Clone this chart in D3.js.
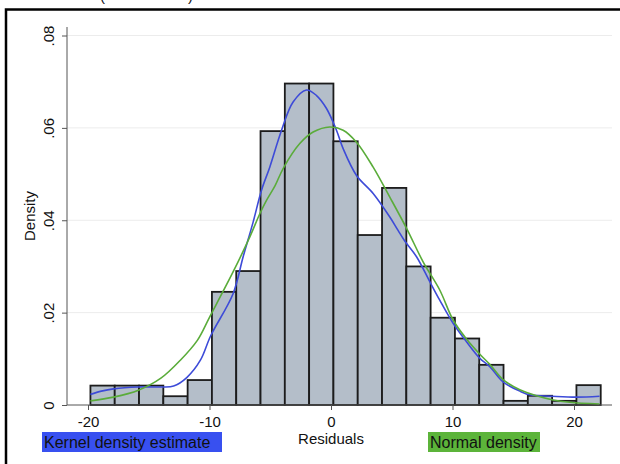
<!DOCTYPE html>
<html>
<head>
<meta charset="utf-8">
<script src="https://cdn.jsdelivr.net/npm/d3@7"></script>
<style>
  html, body { margin: 0; padding: 0; background: #fff; }
  svg { display: block; font-family: "Liberation Sans", Arial, Helvetica, sans-serif; }
  .tick-label { font-size: 15px; fill: #111; }
  .axis-title { font-size: 15px; fill: #111; }
  .legend-label { font-size: 16px; fill: #111; }
</style>
</head>
<body>
<div id="chart"></div>
<script>
// histogram bins (left edge) and their densities
const binLeft = [-19.8, -17.8, -15.8, -13.8, -11.8, -9.8, -7.8, -5.8, -3.8, -1.8,
  0.2, 2.2, 4.2, 6.2, 8.2, 10.2, 12.2, 14.2, 16.2, 18.2, 20.2];
const binDensity = [0.0042, 0.0042, 0.0042, 0.0019, 0.0054, 0.0245, 0.029, 0.0593, 0.0696, 0.0696,
  0.0571, 0.0368, 0.047, 0.030, 0.0189, 0.0144, 0.0087, 0.0009, 0.002, 0.0009, 0.0043];
const binWidth = 2;

// kernel density estimate (blue)
const kdeX = [-19.8, -18.9, -17.9, -15.85, -14.0, -12.95, -11.85, -10.75, -9.9, -8.06, -7.23, -6.41,
  -5.72, -5.04, -4.07, -3.12, -2.02, -1.19, -0.37, 0.45, 1.0, 2.1, 3.47, 4.84, 5.52, 6.07, 7.04,
  8.13, 8.95, 10.05, 11.15, 12.25, 13.07, 14.16, 15.54, 16.36, 18.2, 20.2, 22.1];
const kdeY = [0.0023, 0.0030, 0.0035, 0.0039, 0.0039, 0.0041, 0.0060, 0.0097, 0.0150, 0.0241, 0.0321, 0.0396,
  0.0465, 0.0515, 0.0595, 0.0656, 0.0682, 0.0670, 0.0642, 0.0595, 0.0555, 0.0497, 0.0458, 0.0407, 0.0378, 0.0355, 0.0321,
  0.0267, 0.0227, 0.0177, 0.0137, 0.0101, 0.0083, 0.0050, 0.0030, 0.0022, 0.0019, 0.0017, 0.0019];

// normal density (green)
const normX = [-19.8, -17.9, -15.85, -14.0, -12.4, -11.0, -9.98, -8.06, -6.68, -5.86, -5.31, -4.6, -3.94,
  -2.57, -1.47, -0.1, 1.0, 2.1, 3.47, 4.84, 6.21, 7.58, 8.95, 10.05, 11.15, 12.25, 13.07, 14.16, 15.54,
  16.91, 18.28, 19.65, 22.1];
const normY = [0.0009, 0.0017, 0.0032, 0.0058, 0.0097, 0.0140, 0.0191, 0.0288, 0.0364, 0.0414, 0.0443, 0.0475, 0.0512,
  0.0566, 0.0591, 0.0602, 0.0595, 0.0569, 0.0515, 0.0450, 0.0383, 0.0310, 0.0249, 0.0184, 0.0143, 0.0110, 0.0088, 0.0055, 0.0033,
  0.0020, 0.0011, 0.0006, 0.0002];

const xTicks = [-20, -10, 0, 10, 20];
const yTicks = [0, 0.02, 0.04, 0.06, 0.08];
const yTickLabels = ['0', '.02', '.04', '.06', '.08'];

const width = 620;
const height = 464;
const plot = { left: 67, right: 612, top: 27, bottom: 405 };

const x = d3.scaleLinear().domain([-20, 20]).range([88, 574]);
const y = d3.scaleLinear().domain([0, 0.08]).range([405, 35.5]);

const svg = d3.select('#chart').append('svg')
  .attr('width', width)
  .attr('height', height);

// bits of a line cut off above the frame
svg.append('text').attr('class', 'tick-label').attr('x', 100).attr('y', 1).text('(');
svg.append('text').attr('class', 'tick-label').attr('x', 188).attr('y', 1).text(')');

// outer frame
svg.append('rect')
  .attr('x', 6).attr('y', 9.5)
  .attr('width', 700).attr('height', 520)
  .attr('fill', 'none')
  .attr('stroke', '#000')
  .attr('stroke-width', 2.5);

// grid
svg.append('g')
  .selectAll('line')
  .data(yTicks.filter((d) => d > 0))
  .join('line')
  .attr('x1', plot.left).attr('x2', plot.right)
  .attr('y1', (d) => y(d)).attr('y2', (d) => y(d))
  .attr('stroke', '#ececec')
  .attr('stroke-width', 1);

// bars
svg.append('g')
  .selectAll('rect')
  .data(binLeft)
  .join('rect')
  .attr('x', (d) => x(d))
  .attr('y', (d, i) => y(binDensity[i]))
  .attr('width', (d) => x(d + binWidth) - x(d))
  .attr('height', (d, i) => y(0) - y(binDensity[i]))
  .attr('fill', '#b4bec9')
  .attr('stroke', '#1c1c1c')
  .attr('stroke-width', 1.8);

const line = d3.line()
  .x((d) => x(d[0]))
  .y((d) => y(d[1]))
  .curve(d3.curveCatmullRom.alpha(0.5));

svg.append('path')
  .datum(kdeX.map((v, i) => [v, kdeY[i]]))
  .attr('d', line)
  .attr('fill', 'none')
  .attr('stroke', '#3d4bd8')
  .attr('stroke-width', 1.6);

svg.append('path')
  .datum(normX.map((v, i) => [v, normY[i]]))
  .attr('d', line)
  .attr('fill', 'none')
  .attr('stroke', '#5aac3a')
  .attr('stroke-width', 1.6);

// axes
const yAxis = svg.append('g')
  .attr('transform', `translate(${plot.left},0)`)
  .call(d3.axisLeft(y).tickValues(yTicks).tickFormat((d, i) => yTickLabels[i]).tickSize(5).tickSizeOuter(0));
yAxis.select('.domain').remove();
yAxis.selectAll('.tick line').attr('stroke', '#555');
yAxis.selectAll('.tick text')
  .attr('class', 'tick-label')
  .attr('x', null).attr('dy', null)
  .attr('transform', 'translate(-13,0) rotate(-90)')
  .attr('text-anchor', 'middle')
  .attr('y', 0);

svg.append('line')
  .attr('x1', plot.left).attr('x2', plot.left)
  .attr('y1', plot.top).attr('y2', plot.bottom)
  .attr('stroke', '#555').attr('stroke-width', 1);

const xAxis = svg.append('g')
  .attr('transform', `translate(0,${plot.bottom})`)
  .call(d3.axisBottom(x).tickValues(xTicks).tickFormat((d) => String(d)).tickSize(5).tickSizeOuter(0));
xAxis.select('.domain').remove();
xAxis.selectAll('.tick line').attr('stroke', '#555');
xAxis.selectAll('.tick text')
  .attr('class', 'tick-label')
  .attr('dy', null)
  .attr('y', 22);

svg.append('line')
  .attr('x1', plot.left).attr('x2', plot.right)
  .attr('y1', plot.bottom).attr('y2', plot.bottom)
  .attr('stroke', '#555').attr('stroke-width', 1);

// axis titles
svg.append('text')
  .attr('class', 'axis-title')
  .attr('transform', 'translate(35,216) rotate(-90)')
  .attr('text-anchor', 'middle')
  .text('Density');

svg.append('text')
  .attr('class', 'axis-title')
  .attr('x', x(0)).attr('y', 444)
  .attr('text-anchor', 'middle')
  .text('Residuals');

// legend
const legend = [
  { label: 'Kernel density estimate', color: '#3850f0', x: 42, w: 180 },
  { label: 'Normal density', color: '#5cb43a', x: 428, w: 112 },
];
const keys = svg.append('g')
  .selectAll('g')
  .data(legend)
  .join('g')
  .attr('transform', (d) => `translate(${d.x},432)`);
keys.append('rect')
  .attr('width', (d) => d.w)
  .attr('height', 20)
  .attr('fill', (d) => d.color);
keys.append('text')
  .attr('class', 'legend-label')
  .attr('x', 2)
  .attr('y', 15.5)
  .text((d) => d.label);
</script>
</body>
</html>
